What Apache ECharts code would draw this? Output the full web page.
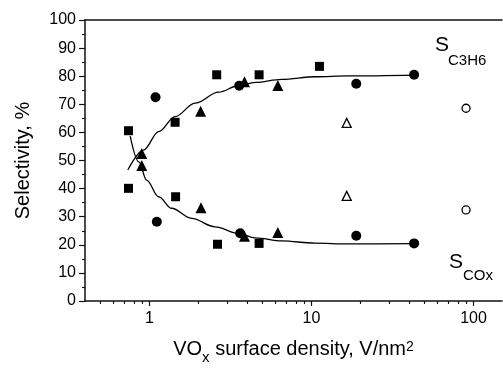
<!DOCTYPE html>
<html><head><meta charset="utf-8">
<script src="https://cdn.jsdelivr.net/npm/echarts@6/dist/echarts.min.js"></script>
<style>html,body{margin:0;padding:0;background:#fff}#c{width:503px;height:368px}</style>
</head><body><div id="c"></div>
<script>
// ---- data ----
const xMajorTicks = [1, 10, 100];
const xMinorTicks = [0.5,0.6,0.7,0.8,0.9,2,3,4,5,6,7,8,9,20,30,40,50,60,70,80,90];

const squaresTop    = [[0.742,60.6],[1.44,63.6],[2.6,80.5],[4.75,80.5],[11.2,83.5]];
const squaresBottom = [[0.742,40.1],[1.45,37.1],[2.63,20.2],[4.75,20.5]];
const circlesTop    = [[1.09,72.5],[3.58,76.6],[18.9,77.3],[43,80.5]];
const circlesBottom = [[1.11,28.2],[3.63,24.1],[18.9,23.2],[43,20.5]];
const trianglesTop    = [[0.896,52.5],[2.07,67.5],[3.86,78.0],[6.2,76.7]];
const trianglesBottom = [[0.896,48.2],[2.08,33.2],[3.86,23.0],[6.2,24.4]];
const openTriangles = [[16.5,63.4],[16.5,37.4]];
const openCircles   = [[90,68.6],[90,32.4]];

const fitTop = [[0.735,46.6],[0.918,53.7],[1.14,60.3],[1.44,65.6],[1.91,70.4],[2.67,74.3],[3.54,76.6],[4.49,77.8],[6.56,78.9],[10.5,79.8],[16.9,80.1],[43,80.4]];
const fitBottom = [[0.76,58.7],[0.86,49.5],[0.96,43.0],[1.14,37.1],[1.37,33.0],[1.82,29.4],[2.54,26.4],[3.54,24.1],[4.49,22.5],[6.56,21.4],[10.5,20.6],[16.9,20.3],[43,20.4]];

// ---- chart ----
const FONT = '"Liberation Sans", Arial, Helvetica, sans-serif';
const AX = '#111';
const chart = echarts.init(document.getElementById('c'), null, {renderer: 'canvas'});

function scatter(data, symbol, size) {
  return {type: 'scatter', xAxisIndex: 0, data: data, symbol: symbol, symbolSize: size,
          itemStyle: {color: '#000', opacity: 1}, z: 5};
}
function openScatter(data, symbol, size) {
  return {type: 'scatter', xAxisIndex: 0, data: data, symbol: symbol, symbolSize: size,
          itemStyle: {color: '#fff', borderColor: '#000', borderWidth: 1.3, opacity: 1}, z: 5};
}
function fit(data) {
  return {type: 'line', xAxisIndex: 0, data: data, smooth: 0.35, smoothMonotone: 'x', symbol: 'none',
          lineStyle: {color: '#000', width: 1.3}, z: 3};
}

const option = {
  animation: false,
  backgroundColor: '#fff',
  grid: {left: 85, right: 1, top: 20, bottom: 67, containLabel: false, outerBoundsMode: 'none'},
  xAxis: [
    {
      type: 'log', logBase: 10, min: 0.4, max: 150, position: 'bottom',
      axisLine: {show: true, lineStyle: {color: AX, width: 1.5}},
      axisTick: {show: true, length: 5, customValues: xMajorTicks, lineStyle: {color: AX, width: 1.2}},
      axisLabel: {customValues: xMajorTicks, fontSize: 16, color: '#000', fontFamily: FONT, margin: 10},
      splitLine: {show: false}, minorTick: {show: false},
      name: '{m|VO}{sub|x}{m| surface density, V/nm}{sup|2}',
      nameLocation: 'middle', nameGap: 33,
      nameTextStyle: {
        fontFamily: FONT, color: '#000', fontSize: 20,
        rich: {
          m: {fontSize: 20, fontFamily: FONT, color: '#000', verticalAlign: 'middle'},
          sub: {fontSize: 15, fontFamily: FONT, color: '#000', verticalAlign: 'middle', padding: [16, 0, 0, 0]},
          sup: {fontSize: 14, fontFamily: FONT, color: '#000', verticalAlign: 'middle', padding: [0, 0, 5, 0]}
        }
      }
    },
    {
      type: 'log', logBase: 10, min: 0.4, max: 150, position: 'bottom',
      axisLine: {show: false},
      axisTick: {show: true, length: 3, customValues: xMinorTicks, lineStyle: {color: AX, width: 1.1}},
      axisLabel: {show: false}, splitLine: {show: false}
    },
    {
      type: 'log', logBase: 10, min: 0.4, max: 150, position: 'top',
      axisLine: {show: true, lineStyle: {color: AX, width: 1.5}},
      axisTick: {show: false}, axisLabel: {show: false}, splitLine: {show: false}
    }
  ],
  yAxis: {
    type: 'value', min: 0, max: 100, interval: 10,
    axisLine: {show: true, lineStyle: {color: AX, width: 1.5}},
    axisTick: {show: true, length: 6, lineStyle: {color: AX, width: 1.2}},
    minorTick: {show: true, splitNumber: 2, length: 3, lineStyle: {color: AX, width: 1.1}},
    axisLabel: {fontSize: 16, color: '#000', fontFamily: FONT, margin: 9},
    splitLine: {show: false},
    name: 'Selectivity, %', nameLocation: 'middle', nameGap: 52, nameRotate: 90,
    nameTextStyle: {fontSize: 20, color: '#000', fontFamily: FONT}
  },
  series: [
    fit(fitTop), fit(fitBottom),
    scatter(squaresTop, 'rect', 9), scatter(squaresBottom, 'rect', 9),
    scatter(circlesTop, 'circle', 10), scatter(circlesBottom, 'circle', 10),
    scatter(trianglesTop, 'triangle', 11), scatter(trianglesBottom, 'triangle', 11),
    openScatter(openTriangles, 'triangle', 9), openScatter(openCircles, 'circle', 8)
  ],
  graphic: [
    {type: 'text', x: 435, y: 45.5, style: {text: 'S', fontSize: 21, fontFamily: FONT, fill: '#000', verticalAlign: 'middle'}},
    {type: 'text', x: 448, y: 60.5, style: {text: 'C3H6', fontSize: 15, fontFamily: FONT, fill: '#000', verticalAlign: 'middle'}},
    {type: 'text', x: 449, y: 262.5, style: {text: 'S', fontSize: 21, fontFamily: FONT, fill: '#000', verticalAlign: 'middle'}},
    {type: 'text', x: 463, y: 276, style: {text: 'COx', fontSize: 15, fontFamily: FONT, fill: '#000', verticalAlign: 'middle'}}
  ]
};
chart.setOption(option);
</script>
</body></html>
